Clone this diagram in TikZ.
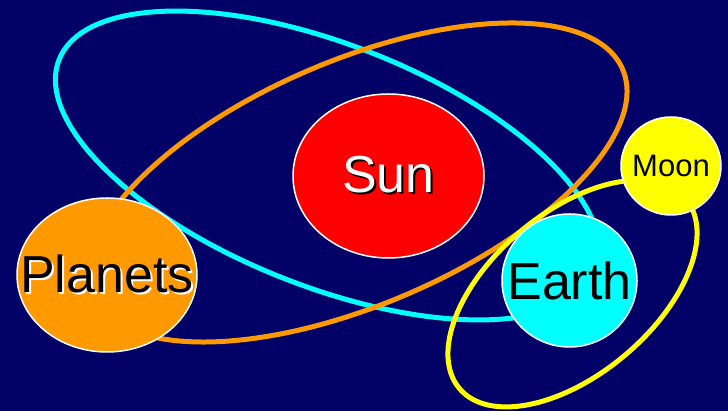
\documentclass[tikz,border=0pt]{standalone}
\usepackage{fontspec}
\setmainfont{Liberation Sans}
\usetikzlibrary{shapes.geometric}
\definecolor{navybg}{HTML}{000066}
\definecolor{orbcyan}{HTML}{00FFFF}
\definecolor{orborange}{HTML}{FF9900}
\definecolor{orbyellow}{HTML}{FFFF00}
\definecolor{sunred}{HTML}{FF0000}
\newcommand{\shadowed}[3]{\makebox[0pt]{\makebox[0pt][l]{\hspace*{2pt}\raisebox{-2pt}{\color{#2}#3}}\color{#1}#3}}
\newcommand{\plain}[1]{\makebox[0pt]{#1}}
\tikzset{
  orbit/.style={line width=5pt},
  body/.style={ellipse, draw=white, line width=1.5pt, inner sep=0pt, outer sep=0pt},
  bigtext/.style={font=\fontsize{52}{60}\selectfont},
}
\begin{document}
\begin{tikzpicture}[x=1pt,y=1pt]
\useasboundingbox (0,0) rectangle (728,411);
\fill[navybg] (0,0) rectangle (728,411);
% orbits
\draw[orbit, orbcyan, rotate around={-21.5:(327.5,245.5)}] (327.5,245.5) ellipse [x radius=288.5, y radius=121];
\draw[orbit, orborange, rotate around={23.1:(357.5,228.5)}] (357.5,228.5) ellipse [x radius=288.3, y radius=122.3];
\draw[orbit, orbyellow, rotate around={40:(572.5,117.5)}] (572.5,117.5) ellipse [x radius=147.7, y radius=81];
% bodies
\node[body, fill=sunred, minimum width=191pt, minimum height=164pt, bigtext] (sun) at (388.5,235) {\shadowed{white}{black}{Sun}};
\node[body, fill=orborange, minimum width=180pt, minimum height=154pt, bigtext] (planets) at (107,136) {\shadowed{black}{white}{Planets}};
\node[body, fill=orbcyan, minimum width=135pt, minimum height=133pt, bigtext] (earth) at (569.5,130.5) {\plain{Earth}};
\node[body, fill=orbyellow, minimum width=100pt, minimum height=98pt, font=\fontsize{31}{36}\selectfont] (moon) at (671,245) {\plain{Moon}};
\end{tikzpicture}
\end{document}
